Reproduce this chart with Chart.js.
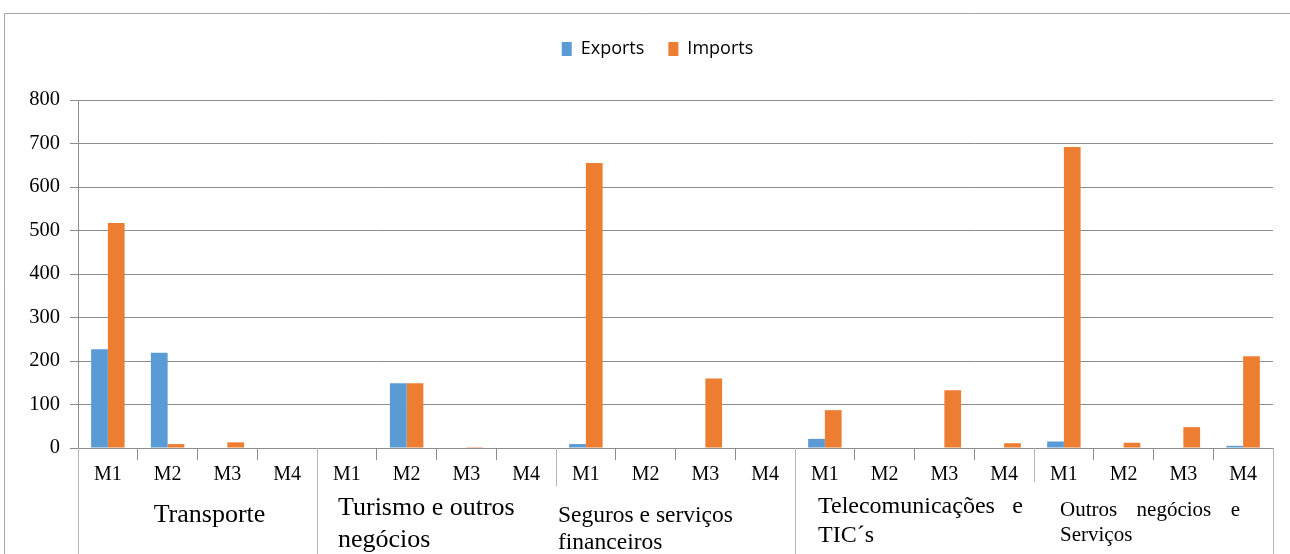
<!DOCTYPE html>
<html>
<head>
<meta charset="utf-8">
<script src="https://cdn.jsdelivr.net/npm/chart.js@4.4.1/dist/chart.umd.min.js"></script>
<style>
  html, body { margin: 0; padding: 0; background: #fff; }
  #wrap { width: 1290px; height: 554px; position: relative; }
</style>
</head>
<body>
<div id="wrap"><canvas id="servicesChart"></canvas></div>
<script>
// categories (M1..M4 repeated for each group)
const months = ["M1", "M2", "M3", "M4"];
const groupNames = [
  ["Transporte"],
  ["Turismo e outros", "negócios"],
  ["Seguros e serviços", "financeiros"],
  ["Telecomunicações e", "TIC´s"],
  ["Outros negócios e", "Serviços"]
];
const categories = [];
groupNames.forEach(() => months.forEach(m => categories.push(m)));

const exportsValues = [227, 219, 0, 0, 0, 149, 0, 0, 9, 0, 0, 0, 21, 0, 0, 0, 15, 0, 0, 5];
const importsValues = [517, 9, 13, 0, 0, 149, 2, 0, 655, 0, 160, 0, 87, 0, 133, 11, 692, 12, 48, 211];
const yTicks = [0, 100, 200, 300, 400, 500, 600, 700, 800];

const gridColor = "#8c8c8c";
const serif = "'Liberation Serif', 'Times New Roman', serif";

// how each group label is laid out under the axis
const groupStyle = [
  { size: 26, align: "center", dx: 12, ys: [515] },
  { size: 26, align: "left", dx: 21, ys: [508, 540] },
  { size: 23.5, align: "left", dx: 2, ys: [516, 543] },
  { size: 24, align: "left", dx: 23, ys: [507, 536], justify: [205, 0] },
  { size: 21, align: "left", dx: 26, ys: [510, 535], justify: [180, 0] }
];
// how far down each group boundary line goes (index 0 = left edge)
const sepBottom = [554, 554, 486, 554, 482, 554];

const groupPlugin = {
  id: "groupAxis",
  beforeLayout(chart) {
    // fixed legend band so the plot starts where the original does
    const lg = chart.legend;
    if (lg && !lg._fixedFit) {
      const fit = lg.fit.bind(lg);
      lg.fit = function () { fit(); this.height = 84; };
      lg._fixedFit = true;
    }
  },
  afterLayout(chart) {
    // legend in the original sits a bit right of the canvas centre
    chart.legend.left += 21;
    chart.legend.right += 21;
  },
  afterDraw(chart) {
    const ctx = chart.ctx;
    const x = chart.scales.x;
    const top = chart.chartArea.bottom;
    const half = (x.getPixelForValue(1) - x.getPixelForValue(0)) / 2;
    ctx.save();
    // outer frame
    ctx.strokeStyle = "#a6a6a6";
    ctx.lineWidth = 1;
    ctx.beginPath();
    ctx.moveTo(4.5, 600);
    ctx.lineTo(4.5, 13.5);
    ctx.lineTo(1300, 13.5);
    ctx.stroke();
    // group separators
    ctx.strokeStyle = "#b5b5b5";
    for (let g = 0; g <= groupNames.length; g++) {
      const px = Math.round(x.getPixelForValue(g * 4) - half) + 0.5;
      ctx.beginPath();
      ctx.moveTo(px, top);
      ctx.lineTo(px, sepBottom[g]);
      ctx.stroke();
    }
    // group labels
    ctx.fillStyle = "#000";
    ctx.textBaseline = "middle";
    groupNames.forEach((lines, g) => {
      const st = groupStyle[g];
      const left = x.getPixelForValue(g * 4) - half;
      const right = x.getPixelForValue(g * 4 + 3) + half;
      ctx.font = st.size + "px " + serif;
      lines.forEach((line, i) => {
        const y = st.ys[i];
        const jw = st.justify ? st.justify[i] : 0;
        if (st.align === "center") {
          ctx.textAlign = "center";
          ctx.fillText(line, (left + right) / 2 + st.dx, y);
        } else if (jw) {
          const words = line.split(" ");
          const wordsW = words.reduce((s, w) => s + ctx.measureText(w).width, 0);
          const gap = (jw - wordsW) / (words.length - 1);
          let cx = left + st.dx;
          ctx.textAlign = "left";
          words.forEach(w => {
            ctx.fillText(w, cx, y);
            cx += ctx.measureText(w).width + gap;
          });
        } else {
          ctx.textAlign = "left";
          ctx.fillText(line, left + st.dx, y);
        }
      });
    });
    ctx.restore();
  }
};

const ctx = document.getElementById("servicesChart").getContext("2d");
new Chart(ctx, {
  type: "bar",
  data: {
    labels: categories,
    datasets: [
      { label: "Exports", data: exportsValues, backgroundColor: "#5b9bd5" },
      { label: "Imports", data: importsValues, backgroundColor: "#ed7d31" }
    ]
  },
  options: {
    responsive: true,
    maintainAspectRatio: false,
    animation: false,
    layout: { padding: { top: 16, right: 17, left: 0, bottom: 0 } },
    datasets: { bar: { categoryPercentage: 0.56, barPercentage: 1.0 } },
    plugins: {
      legend: {
        display: true,
        labels: {
          boxWidth: 10,
          boxHeight: 14,
          padding: 24,
          color: "#000",
          font: { family: "'Open Sans', 'Liberation Sans', sans-serif", size: 18 }
        }
      },
      tooltip: { enabled: false }
    },
    scales: {
      x: {
        grid: {
          offset: true,
          drawOnChartArea: false,
          drawTicks: true,
          tickLength: 12,
          color: gridColor
        },
        border: { color: gridColor },
        ticks: {
          color: "#000",
          padding: 3,
          font: { family: serif, size: 20 },
          maxRotation: 0,
          autoSkip: false
        },
        afterFit(scale) { scale.height = 106; }
      },
      y: {
        min: 0,
        max: 800,
        afterBuildTicks(scale) { scale.ticks = yTicks.map(v => ({ value: v })); },
        grid: { color: gridColor, tickLength: 8 },
        border: { color: gridColor },
        ticks: {
          color: "#000",
          padding: 10,
          font: { family: serif, size: 20.5 }
        },
        afterFit(scale) { scale.width = 78; }
      }
    }
  },
  plugins: [groupPlugin]
});
</script>
</body>
</html>
